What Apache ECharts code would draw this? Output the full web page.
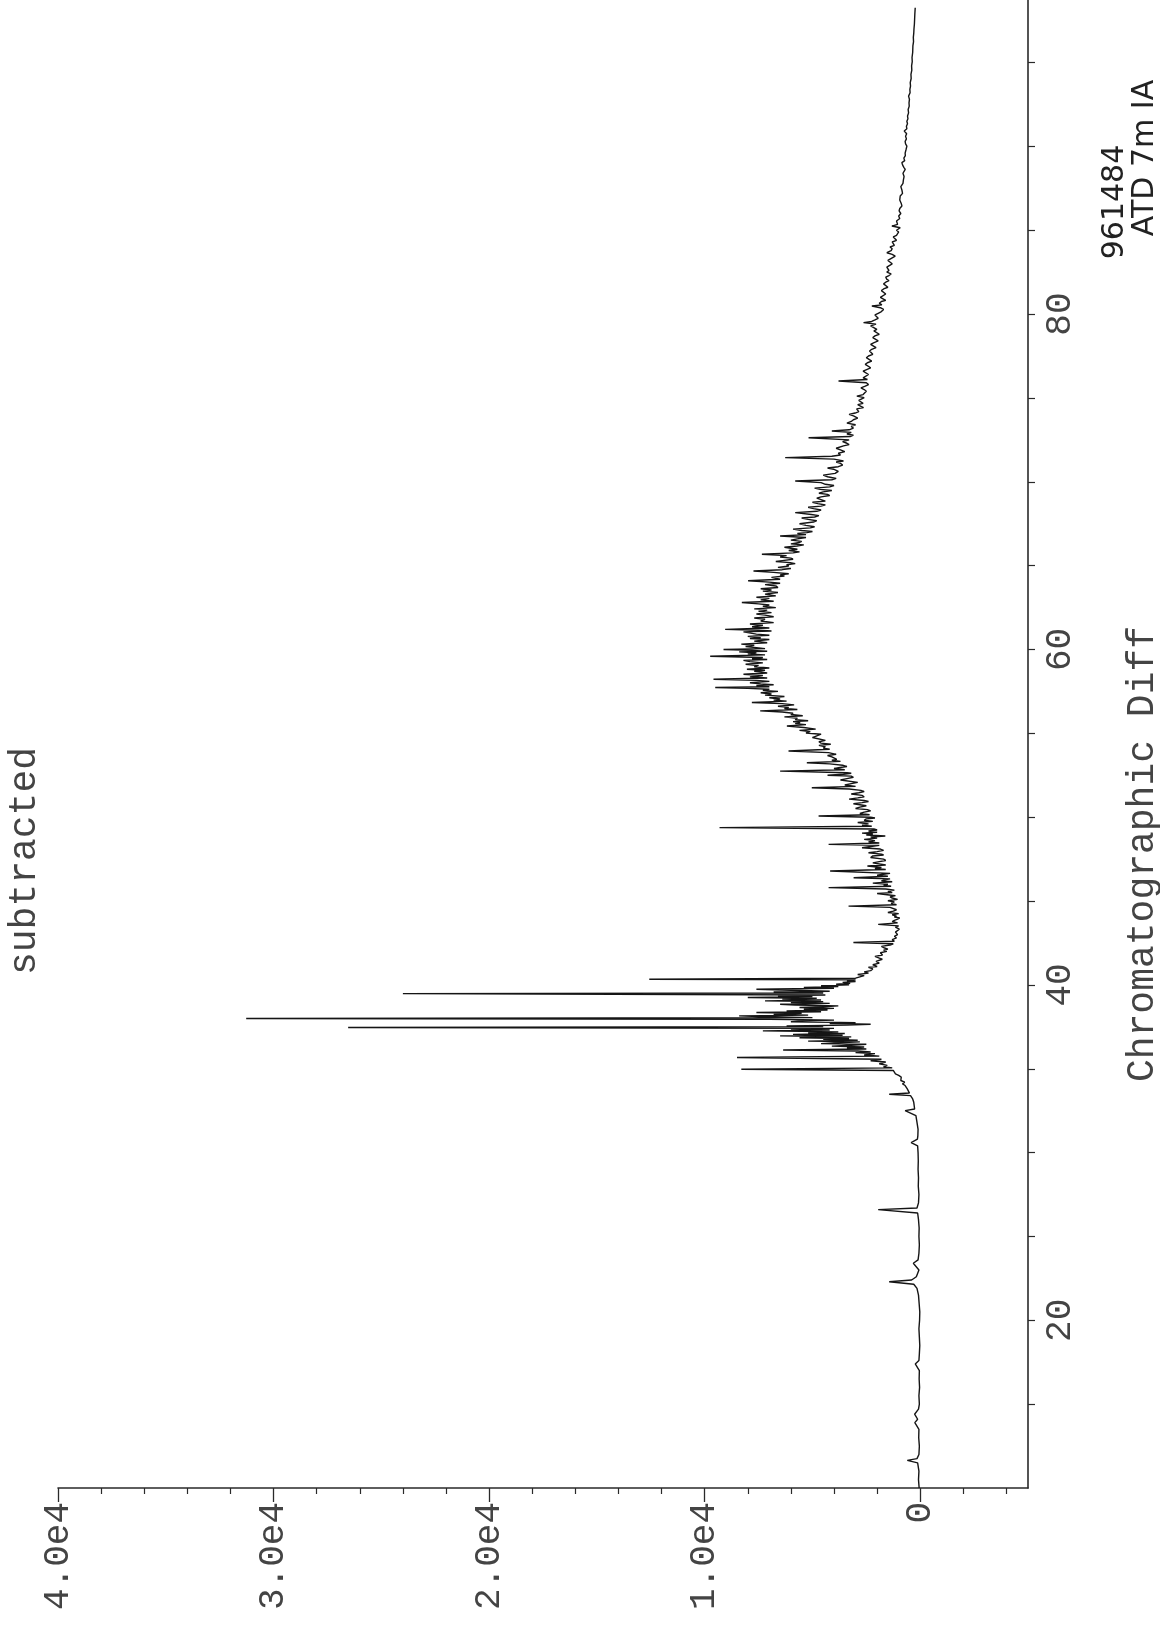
<!DOCTYPE html>
<html><head><meta charset="utf-8">
<script src="https://cdn.jsdelivr.net/npm/echarts@6/dist/echarts.min.js"></script>
<style>html,body{margin:0;padding:0;background:#fff}#chart{width:1160px;height:1652px}</style>
</head><body><div id="chart"></div>
<script>
// ---- data: [retention time, abundance] ----
const segBaseline = [[10.0,50],[10.5,80],[11.0,60],[11.5,120],[11.65,600],[11.75,150],[12.0,60],[12.5,40],[13.0,70],[13.5,60],[13.9,250],[14.1,120],[14.4,260],[14.7,80],[15.0,40],[15.5,60],[16.0,30],[16.5,50],[17.0,40],[17.4,230],[17.6,60],[18.0,40],[18.5,20],[19.0,40],[19.5,60],[20.0,30],[20.5,20],[21.0,50],[21.5,80],[21.9,150],[22.15,300],[22.3,1440],[22.4,400],[22.6,180],[23.0,60],[23.4,320],[23.6,100],[24.0,60],[24.5,40],[25.0,60],[25.5,50],[26.0,80],[26.4,120],[26.6,1950],[26.7,150],[27.0,80],[27.5,60],[28.0,90],[28.5,80],[29.0,100],[29.5,90],[30.0,100],[30.4,120],[30.6,420],[30.8,130],[31.0,110],[31.39,100],[31.8,150],[32.2,200],[32.5,700],[32.6,260],[33.0,300]];
const segMainCluster = [[33.2,350],[33.3,420],[33.4,450],[33.48,1440],[33.55,500],[33.65,560],[33.8,600],[33.9,680],[34.0,700],[34.1,820],[34.2,720],[34.3,900],[34.4,970],[34.5,880],[34.6,1000],[34.7,1150],[34.8,1100],[34.9,1250],[34.97,8300],[35.05,1300],[35.12,1700],[35.2,1530],[35.3,1900],[35.4,1600],[35.48,2300],[35.57,1800],[35.67,8500],[35.75,1900],[35.82,2600],[35.9,2100],[35.96,3000],[36.0,2300],[36.06,2900],[36.12,6360],[36.18,2500],[36.24,3400],[36.3,2600],[36.35,4100],[36.4,3200],[36.46,2500],[36.5,4600],[36.55,3800],[36.6,2800],[36.65,5200],[36.7,2900],[36.76,4500],[36.8,3300],[36.85,5600],[36.9,3200],[36.96,6500],[37.0,3600],[37.05,5900],[37.1,3500],[37.15,5200],[37.2,3800],[37.26,7300],[37.31,4200],[37.36,6000],[37.41,4000],[37.46,26540],[37.51,4500],[37.55,6200],[37.6,3400],[37.65,2300],[37.7,4200],[37.75,3000],[37.8,6000],[37.85,5500],[37.9,4000],[37.95,7000],[38.0,31270],[38.05,5000],[38.1,7200],[38.15,8400],[38.2,5200],[38.25,6800],[38.3,5500],[38.35,7600],[38.4,4600],[38.45,6200],[38.5,4300],[38.55,5400],[38.6,4000],[38.65,5600],[38.7,4500],[38.75,3800],[38.8,5800],[38.85,6500],[38.9,4200],[38.95,6000],[39.0,4500],[39.05,7200],[39.1,4600],[39.15,6400],[39.2,4800],[39.25,8000],[39.3,5000],[39.35,6600],[39.4,4400],[39.48,24000],[39.52,4500],[39.58,6800],[39.62,4200],[39.68,6000],[39.74,7600],[39.8,4000],[39.85,5400],[39.9,3800],[39.95,4600],[40.0,3300],[40.04,3900],[40.1,3250],[40.15,3600],[40.2,3000],[40.25,3400],[40.3,3000],[40.34,12570],[40.4,3000],[40.48,2800],[40.55,2600],[40.62,2900],[40.7,2400],[40.78,2600],[40.85,2300],[40.95,2200],[41.05,2400],[41.1,2000],[41.2,2200],[41.3,1900],[41.4,2050],[41.53,1760],[41.6,1900],[41.7,2100],[41.78,1750],[41.85,1700],[41.92,1850],[42.0,1550],[42.07,1700],[42.13,1500],[42.2,1650],[42.3,1800],[42.38,1400],[42.45,1250],[42.53,3100],[42.6,1200],[42.7,1300],[42.8,1100],[42.9,1200],[43.0,1050],[43.15,1150],[43.32,970]];
const segHumpRise = [[43.45,1150],[43.52,1000],[43.61,1950],[43.7,1050],[43.78,1300],[43.85,1200],[43.92,1050],[44.0,950],[44.05,1200],[44.1,1100],[44.18,1300],[44.25,1000],[44.32,1500],[44.4,1250],[44.48,1100],[44.55,1050],[44.62,1400],[44.7,3325],[44.78,1100],[44.86,1350],[44.95,1200],[45.02,1500],[45.1,1050],[45.18,1300],[45.25,1400],[45.32,1150],[45.4,1150],[45.45,2000],[45.5,1300],[45.58,1500],[45.65,1200],[45.72,1600],[45.8,4250],[45.88,1350],[45.94,1700],[46.0,1500],[46.07,2200],[46.15,1300],[46.2,1800],[46.25,1700],[46.32,1400],[46.39,3090],[46.48,1500],[46.54,2000],[46.6,1700],[46.65,1400],[46.7,1450],[46.79,4180],[46.88,1600],[46.94,2100],[47.0,1800],[47.09,2450],[47.15,1600],[47.2,1650],[47.28,2200],[47.35,1900],[47.42,1600],[47.5,1700],[47.6,2300],[47.69,2200],[47.75,1700],[47.8,1800],[47.88,2400],[47.95,2000],[48.02,1700],[48.1,1850],[48.18,2700],[48.25,2300],[48.32,1900],[48.38,4250],[48.46,1900],[48.53,2400],[48.6,2100],[48.68,2600],[48.75,2000],[48.82,2300],[48.88,1620],[48.94,2500],[49.0,2200],[49.05,2700],[49.1,2000],[49.18,2400],[49.24,2000],[49.3,2150],[49.38,9310],[49.46,2250],[49.53,2700],[49.6,2400],[49.68,2900],[49.75,2200],[49.82,2600],[49.9,2500],[49.95,2100],[50.0,2300],[50.07,4715],[50.15,2350],[50.22,2800],[50.3,2600],[50.38,2300],[50.45,2450],[50.52,3000],[50.6,2800],[50.68,2500],[50.75,2550],[50.8,3100],[50.87,2700],[50.94,2400],[51.0,2600],[51.08,3300],[51.15,2900],[51.22,2600],[51.3,2700],[51.38,3200],[51.46,2850],[51.53,2600],[51.6,2750],[51.68,3300],[51.76,5030],[51.84,3000],[51.92,3500],[52.0,3200],[52.08,2900],[52.15,2950],[52.22,3700],[52.3,3400],[52.38,3100],[52.45,3200],[52.5,4300],[52.56,3555],[52.62,3200],[52.65,3400],[52.75,6500],[52.83,3500],[52.9,4000],[52.95,3800],[53.02,3400],[53.1,3600],[53.18,4200],[53.25,5260],[53.33,3700],[53.4,4100],[53.45,3870]];
const segHumpTop = [[53.6,4100],[53.68,4300],[53.75,3900],[53.85,4250],[53.95,6110],[54.05,4200],[54.12,4500],[54.2,4400],[54.28,4700],[54.35,4150],[54.42,4600],[54.5,4700],[54.58,4400],[54.65,4450],[54.75,5000],[54.85,4950],[54.95,4600],[55.02,5300],[55.1,5100],[55.18,5600],[55.25,4850],[55.35,5400],[55.44,6185],[55.52,5300],[55.58,5800],[55.64,5570],[55.7,5900],[55.75,5200],[55.82,5800],[55.9,5700],[55.98,6300],[56.05,5450],[56.12,6000],[56.2,5900],[56.27,6400],[56.34,7425],[56.42,5700],[56.48,6300],[56.55,6100],[56.62,6600],[56.7,5850],[56.77,6400],[56.84,7810],[56.92,6200],[56.98,6800],[57.05,6500],[57.12,7000],[57.2,6300],[57.28,7200],[57.35,6900],[57.42,7400],[57.5,6600],[57.56,7300],[57.63,7000],[57.68,8000],[57.73,9510],[57.78,7000],[57.85,7600],[57.9,6800],[57.95,7400],[58.02,7900],[58.1,7000],[58.16,7600],[58.23,9590],[58.3,7100],[58.37,7900],[58.45,7300],[58.52,8200],[58.6,7100],[58.7,7700],[58.76,7200],[58.82,8040],[58.9,7000],[58.97,7700],[59.05,7500],[59.12,8100],[59.2,7300],[59.28,7900],[59.35,8200],[59.4,7100],[59.45,7800],[59.52,7300],[59.6,9745],[59.68,7200],[59.74,8000],[59.8,7600],[59.86,8400],[59.9,7100],[59.95,7800],[60.0,9125],[60.05,7200],[60.1,7500],[60.18,8100],[60.25,7700],[60.32,8300],[60.4,7100],[60.5,7700],[60.6,7000],[60.66,7900],[60.7,7400],[60.78,8000],[60.85,7000],[60.92,7600],[61.0,7600],[61.05,8200],[61.1,6900],[61.15,7500],[61.2,9050],[61.28,7000],[61.36,7800],[61.45,7300],[61.52,7900],[61.6,6800],[61.7,7400],[61.8,7200],[61.88,7700],[61.95,6800],[62.05,7200],[62.12,7600],[62.2,6900],[62.28,7500],[62.35,7100],[62.42,7700],[62.5,6700],[62.58,7300],[62.65,7000],[62.72,7500],[62.8,8275],[62.88,6800],[62.96,7400],[63.05,7000],[63.12,7600],[63.2,6700],[63.3,7200],[63.4,6600],[63.48,7300],[63.55,6900],[63.62,7400],[63.7,6600],[63.79,6700],[63.87,7200],[63.95,6500],[64.02,7000],[64.1,7985],[64.19,6500]];
const segHumpFall = [[64.3,6900],[64.38,6300],[64.45,6500],[64.52,6100],[64.6,6800],[64.68,7735],[64.76,6400],[64.83,6000],[64.9,6600],[64.98,6100],[65.05,6200],[65.12,5800],[65.18,6030],[65.25,6700],[65.3,6400],[65.38,5900],[65.45,6000],[65.52,6500],[65.6,6200],[65.68,7345],[65.76,5900],[65.82,5600],[65.9,6100],[65.98,5700],[66.05,5750],[66.1,6300],[66.17,5720],[66.24,5400],[66.3,6000],[66.38,5600],[66.45,5500],[66.52,6000],[66.6,5700],[66.68,5300],[66.77,6500],[66.85,5300],[66.92,5700],[66.97,5260],[67.04,5000],[67.1,5500],[67.18,5900],[67.25,5100],[67.32,4900],[67.4,5300],[67.5,5600],[67.6,4950],[67.68,4800],[67.76,5200],[67.84,5500],[67.9,4900],[67.98,4700],[68.05,5050],[68.16,5800],[68.24,4800],[68.32,4600],[68.4,4950],[68.48,5200],[68.55,4600],[68.62,4400],[68.7,4750],[68.78,5000],[68.85,4400],[68.96,4330],[69.03,4800],[69.1,4600],[69.18,4200],[69.25,4300],[69.32,4700],[69.4,4500],[69.48,4100],[69.55,4640],[69.62,4900],[69.7,4200],[69.78,4000],[69.85,4400],[69.95,4600],[70.05,5800],[70.12,4100],[70.2,3900],[70.3,4300],[70.4,4500],[70.5,3950],[70.62,3800],[70.75,4020],[70.82,4300],[70.9,3800],[71.0,3600],[71.1,3700],[71.18,3900],[71.24,3560],[71.35,4000],[71.44,6265],[71.52,4100],[71.6,3700],[71.7,3800],[71.8,3500],[71.9,3700],[72.0,3900],[72.14,3560],[72.22,3300],[72.3,3400],[72.4,3600],[72.5,3300],[72.63,5180],[72.7,3250],[72.78,3100],[72.85,3400],[72.95,3200],[73.03,4100],[73.1,3300],[73.2,3100],[73.3,3200],[73.4,3000],[73.5,3400],[73.6,3200],[73.7,3100],[73.8,2900],[73.93,3095],[74.02,3300],[74.1,3020],[74.18,2850],[74.25,2800],[74.35,2950],[74.42,2630],[74.5,2750],[74.6,2900],[74.68,2650],[74.75,2700],[74.85,2850],[74.92,2784]];
const segTail = [[75.02,2600],[75.11,2940],[75.2,2650],[75.3,2700],[75.4,2500],[75.5,2600],[75.6,2750],[75.7,2550],[75.8,2400],[75.91,2500],[76.01,3790],[76.1,2450],[76.2,2650],[76.3,2600],[76.4,2400],[76.5,2450],[76.6,2650],[76.7,2630],[76.8,2300],[76.9,2350],[77.0,2550],[77.1,2450],[77.2,2250],[77.3,2300],[77.4,2500],[77.5,2400],[77.6,2200],[77.7,2150],[77.8,2350],[77.9,2250],[78.0,2050],[78.1,2100],[78.2,2300],[78.29,2165],[78.4,1950],[78.5,2000],[78.6,2200],[78.7,2100],[78.8,1900],[78.9,1950],[79.0,2150],[79.09,2011],[79.2,2100],[79.3,2300],[79.4,2050],[79.49,2630],[79.56,2250],[79.65,2100],[79.75,1950],[79.85,1900],[79.95,2100],[80.05,1950],[80.15,1800],[80.28,1700],[80.38,1850],[80.48,2243],[80.55,1780],[80.65,1900],[80.75,1800],[80.82,1600],[80.9,1650],[81.0,1850],[81.08,1779],[81.2,1600],[81.3,1650],[81.4,1800],[81.5,1700],[81.6,1500],[81.7,1550],[81.8,1700],[81.9,1600],[82.0,1450],[82.07,1547],[82.2,1600],[82.3,1450],[82.4,1350],[82.5,1550],[82.6,1450],[82.7,1400],[82.8,1550],[82.9,1500],[83.0,1300],[83.1,1350],[83.2,1500],[83.3,1450],[83.46,1160],[83.56,1300],[83.66,1547],[83.78,1350],[83.9,1300],[84.0,1400],[84.1,1200],[84.2,1250],[84.3,1300],[84.4,1100],[84.5,1150],[84.6,1250],[84.7,1100],[84.8,1050],[84.9,1000],[85.0,1100],[85.15,928],[85.25,1315],[85.35,1050],[85.45,1000],[85.55,1100],[85.7,950],[85.85,1000],[86.0,900],[86.15,980],[86.3,950],[86.45,850],[86.6,880],[86.8,950],[87.04,928],[87.2,820],[87.4,850],[87.6,900],[87.8,800],[88.0,780],[88.2,750],[88.4,800],[88.63,696],[88.75,760],[88.9,820],[89.03,851],[89.15,720],[89.3,760],[89.45,690],[89.6,700],[89.8,660],[90.02,619],[90.15,680],[90.3,700],[90.45,640],[90.6,680],[90.75,630],[90.92,742],[91.05,620],[91.2,640],[91.35,590],[91.5,620],[91.65,570],[91.81,588],[92.0,540],[92.2,560],[92.4,510],[92.6,520],[92.8,500],[93.0,540],[93.2,470],[93.4,480],[93.6,450],[93.8,464],[94.05,420],[94.3,430],[94.55,390],[94.8,400],[95.05,370],[95.3,380],[95.6,350],[95.99,340],[96.25,310],[96.5,320],[96.75,300],[97.0,290],[97.3,270],[97.6,260],[97.9,250],[98.27,232]];

// ---- axis ticks and labels ----
const intensityMajorTicks = [0, 10000, 20000, 30000, 40000];
const intensityTickLabels = ['0', '1.0e4', '2.0e4', '3.0e4', '4.0e4'];
const intensityMinorTicks = [-4000,-2000,2000,4000,6000,8000,12000,14000,16000,18000,22000,24000,26000,28000,32000,34000,36000,38000];
const timeTicks = [15,20,25,30,35,40,45,50,55,60,65,70,75,80,85,90,95];
const timeLabels = [20, 40, 60, 80];
const titleText = 'subtracted';
const timeAxisName = 'Chromatographic Diff';
const noteLines = ['961484', 'ATD 7m IA'];

const chromatogram = [].concat(segBaseline, segMainCluster, segHumpRise, segHumpTop, segHumpFall, segTail);
const seriesData = chromatogram.map(p => [p[1], p[0]]);

const FONT = 'Liberation Mono';
const TXT = '#444444';
const AX = '#2a2a2a';

const chart = echarts.init(document.getElementById('chart'), null, {renderer: 'canvas'});
chart.setOption({
  backgroundColor: '#ffffff',
  animation: false,
  grid: {left: 58, right: 132, top: 0, bottom: 164, containLabel: false},
  xAxis: [{
    type: 'value', inverse: true, min: -5000, max: 40000, position: 'bottom',
    axisLine: {show: true, onZero: false, lineStyle: {color: AX, width: 1.6}},
    axisTick: {show: true, customValues: intensityMajorTicks, length: 14, inside: false, lineStyle: {color: AX, width: 1.3}},
    axisLabel: {show: true, customValues: intensityMajorTicks, rotate: 90, margin: 14,
      fontFamily: FONT, fontSize: 36, color: TXT,
      formatter: v => intensityTickLabels[intensityMajorTicks.indexOf(v)]},
    splitLine: {show: false}
  }, {
    type: 'value', inverse: true, min: -5000, max: 40000, position: 'bottom', offset: 0,
    axisLine: {show: false},
    axisTick: {show: true, customValues: intensityMinorTicks, length: 6, inside: false, lineStyle: {color: AX, width: 1.2}},
    axisLabel: {show: false}, splitLine: {show: false}
  }],
  yAxis: {
    type: 'value', min: 10, max: 98.73, position: 'right',
    axisLine: {show: true, onZero: false, lineStyle: {color: AX, width: 1.6}},
    axisTick: {show: true, customValues: timeTicks, length: 7, inside: false, lineStyle: {color: AX, width: 1.2}},
    axisLabel: {show: true, customValues: timeLabels, rotate: 90, margin: 14,
      fontFamily: FONT, fontSize: 36, color: TXT, formatter: v => String(v)},
    splitLine: {show: false}
  },
  series: [{
    type: 'line', xAxisIndex: 0, data: seriesData, showSymbol: false, symbol: 'none',
    sampling: null, smooth: false, clip: false,
    lineStyle: {color: '#151515', width: 1.4}
  }],
  graphic: [
    {type: 'text', x: 25, y: 861, rotation: Math.PI / 2,
      style: {text: titleText, fontFamily: FONT, fontSize: 38, fill: TXT, textAlign: 'center', textVerticalAlign: 'middle'}},
    {type: 'text', x: 1143, y: 854, rotation: Math.PI / 2,
      style: {text: timeAxisName, fontFamily: FONT, fontSize: 38, fill: TXT, textAlign: 'center', textVerticalAlign: 'middle'}},
    {type: 'text', x: 1115, y: 202, rotation: Math.PI / 2,
      style: {text: noteLines[0], fontFamily: 'DejaVu Sans', fontSize: 30, fill: '#222', textAlign: 'center', textVerticalAlign: 'middle'}},
    {type: 'text', x: 1145, y: 158, rotation: Math.PI / 2,
      style: {text: noteLines[1], fontFamily: 'DejaVu Sans', fontSize: 30, fill: '#222', textAlign: 'center', textVerticalAlign: 'middle'}}
  ]
});
</script></body></html>
